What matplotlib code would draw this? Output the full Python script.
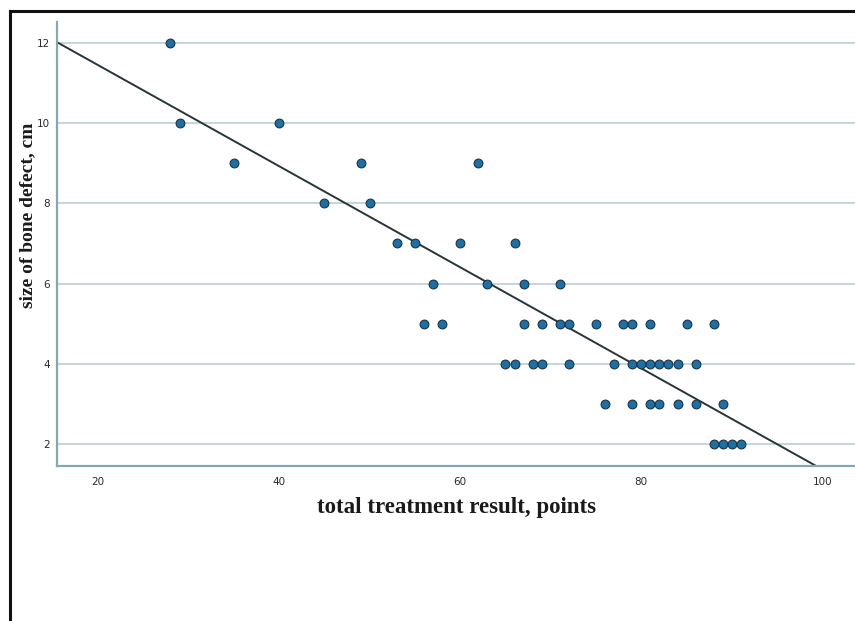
import numpy as np
import matplotlib.pyplot as plt
from matplotlib.lines import Line2D

# Points (treatment result, bone defect size)
treatment = [28, 29, 40, 35, 49, 62, 45, 50, 53, 55, 60, 66, 57, 63, 67, 71,
             56, 58, 67, 69, 71, 72, 75, 78, 79, 81, 85, 88,
             65, 66, 68, 69, 72, 77, 79, 80, 81, 82, 83, 84, 86,
             76, 79, 81, 82, 84, 86, 89,
             88, 89, 90, 91]
defect = [12, 10, 10, 9, 9, 9, 8, 8, 7, 7, 7, 7, 6, 6, 6, 6,
          5, 5, 5, 5, 5, 5, 5, 5, 5, 5, 5, 5,
          4, 4, 4, 4, 4, 4, 4, 4, 4, 4, 4, 4, 4,
          3, 3, 3, 3, 3, 3, 3,
          2, 2, 2, 2]

x_ticks = [20, 40, 60, 80, 100]
y_ticks = [2, 4, 6, 8, 10, 12]

fig = plt.figure(figsize=(8.55, 6.21), dpi=100)
ax = fig.add_axes([57 / 855, 1 - 466 / 621, 1 - 57 / 855, (466 - 22) / 621])

ax.set_xlim(15.47, 103.6)
ax.set_ylim(1.45, 12.52)

# horizontal grid only
for y in y_ticks:
    ax.axhline(y, color='#c4d5dc', lw=1.4, zorder=0)

# linear fit
slope, intercept = np.polyfit(treatment, defect, 1)
xs = np.array(ax.get_xlim())
ax.plot(xs, intercept + slope * xs, color='#27343a', lw=1.4, zorder=2)

ax.scatter(treatment, defect, s=40, c='#1c70a3', edgecolors='#1d3446',
           linewidths=0.8, zorder=3)

for side in ['top', 'right']:
    ax.spines[side].set_visible(False)
for side in ['left', 'bottom']:
    ax.spines[side].set_color('#86a6b4')
    ax.spines[side].set_linewidth(1.6)

ax.set_xticks(x_ticks)
ax.set_yticks(y_ticks)
ax.tick_params(length=0, labelsize=7.5, colors='#2a2a2a', pad=8)
ax.tick_params(axis='y', pad=5)

ax.set_xlabel('total treatment result, points', family='Liberation Serif',
              fontweight='bold', fontsize=16.5, color='#1a1a1a', labelpad=7)
ax.set_ylabel('size of bone defect, cm', family='Liberation Serif',
              fontweight='bold', fontsize=14, color='#1a1a1a')
ax.yaxis.set_label_coords(-21 / 798, (466 - 215) / 444)

# black frame around the figure (left and top)
fig.add_artist(Line2D([10 / 855, 10 / 855], [0, 1 - 11 / 621],
                      color='#111111', lw=2.2, transform=fig.transFigure))
fig.add_artist(Line2D([10 / 855, 1], [1 - 11 / 621, 1 - 11 / 621],
                      color='#111111', lw=2.2, transform=fig.transFigure))

plt.savefig('out.png', dpi=100)
